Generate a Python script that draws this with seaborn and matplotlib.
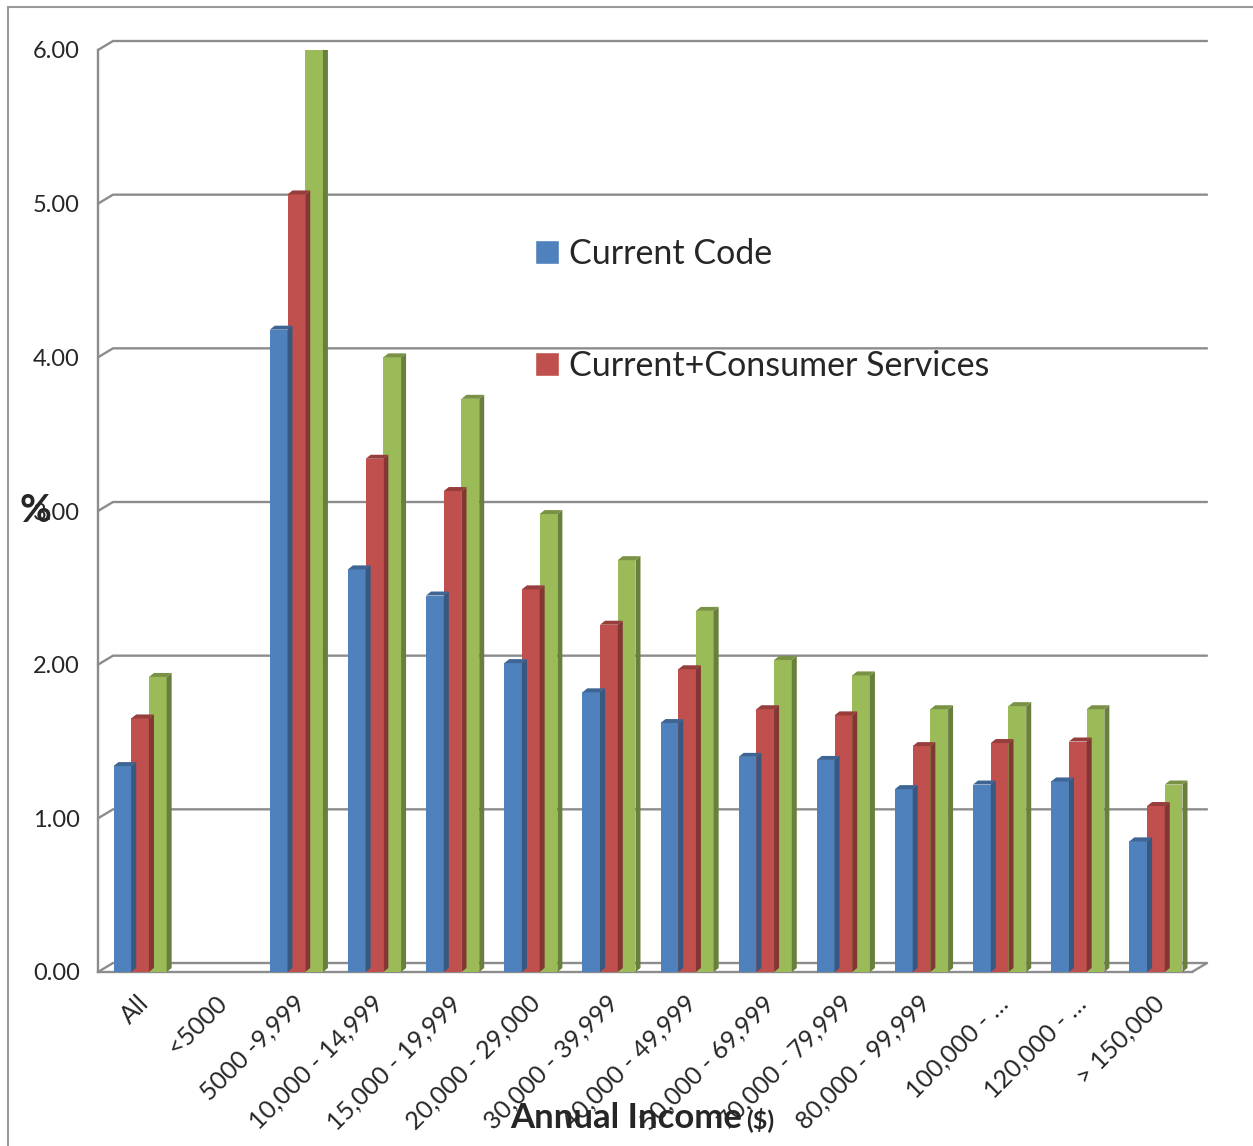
import matplotlib
matplotlib.use('Agg')
import numpy as np
import pandas as pd
import seaborn as sns
import matplotlib.pyplot as plt
from matplotlib.patches import Polygon, Patch, Rectangle

categories = ['All', '<5000', '5000 -9,999', '10,000 - 14,999', '15,000 - 19,999',
              '20,000 - 29,000', '30,000 - 39,999', '40,000 - 49,999', '50,000 - 69,999',
              '70,000 - 79,999', '80,000 - 99,999', '100,000 - \u2026', '120,000 - \u2026',
              '> 150,000']
current_code = [1.34, np.nan, 4.18, 2.62, 2.45, 2.01, 1.82, 1.62, 1.40, 1.38, 1.19, 1.22, 1.24, 0.85]
current_consumer = [1.65, np.nan, 5.06, 3.34, 3.13, 2.49, 2.26, 1.97, 1.71, 1.67, 1.47, 1.49, 1.50, 1.08]
series3 = [1.92, np.nan, 6.01, 4.00, 3.73, 2.98, 2.68, 2.35, 2.03, 1.93, 1.71, 1.73, 1.71, 1.22]
series_names = ['Current Code', 'Current+Consumer Services', 'Series3']
yticks = [0, 1, 2, 3, 4, 5, 6]

colors = ['#4F81BD', '#C0504D', '#9BBB59']
grid_col = '#8c8c8c'

df = pd.DataFrame({
    'income': categories * 3,
    'value': current_code + current_consumer + series3,
    'series': [n for n in series_names for _ in categories],
})

sns.set_style('white')
plt.rcParams['font.family'] = ['Lato', 'DejaVu Sans']

fig = plt.figure(figsize=(12.53, 11.46), dpi=100)
ax = fig.add_axes([98 / 1253, 1 - 972 / 1146, 1094 / 1253, 922 / 1146])

sns.barplot(data=df, x='income', y='value', hue='series', order=categories,
            hue_order=series_names, palette=colors, saturation=1, width=0.68,
            errorbar=None, ax=ax, legend=False, zorder=3)

ax.set_xlim(-0.5, len(categories) - 0.5)
ax.set_ylim(0, 6)

# pixel -> data scales for the fake 3D look
px_x = ax.bbox.width / (len(categories))
px_y = ax.bbox.height / 6.0

# side and top faces of bars
ddx, ddy = 5 / px_x, 4 / px_y
for p in list(ax.patches):
    h = p.get_height()
    if not np.isfinite(h) or h == 0:
        continue
    p.set_x(p.get_x() + 3 / px_x)
    x, w = p.get_x(), p.get_width()
    fc = np.array(p.get_facecolor()[:3])
    side = Polygon([(x + w, 0), (x + w + ddx, ddy), (x + w + ddx, h + ddy), (x + w, h)],
                   closed=True, facecolor=fc * 0.68, edgecolor='none', zorder=3)
    top = Polygon([(x, h), (x + ddx, h + ddy), (x + w + ddx, h + ddy), (x + w, h)],
                  closed=True, facecolor=fc * 0.78, edgecolor='none', zorder=3)
    ax.add_patch(side)
    ax.add_patch(top)
    p.set_edgecolor('none')

# back wall gridlines with diagonal joints
bx, by = 15 / px_x, 9 / px_y
x0, x1 = -0.5, len(categories) - 0.5
for yv in yticks:
    ax.plot([x0, x0 + bx, x1 + bx], [yv, yv + by, yv + by], color=grid_col,
            lw=1.7, zorder=1, clip_on=False)
ax.plot([x1, x1 + bx], [0, by], color=grid_col, lw=1.7, zorder=1, clip_on=False)

# axes styling
for s in ['top', 'right']:
    ax.spines[s].set_visible(False)
for s in ['left', 'bottom']:
    ax.spines[s].set_color(grid_col)
    ax.spines[s].set_linewidth(1.7)

ax.set_yticks(yticks)
ax.set_yticklabels(['%.2f' % v for v in yticks], fontsize=17)
ax.tick_params(axis='y', length=7, width=1.7, color=grid_col, pad=6)

ax.set_xticks(range(len(categories)))
ax.set_xticklabels(categories, rotation=45, ha='right', rotation_mode='anchor', fontsize=18)
ax.set_xticks(np.arange(-0.5, len(categories)), minor=True)
ax.tick_params(axis='x', which='major', length=0, pad=14)
ax.tick_params(axis='x', which='minor', length=10, width=1.7, color=grid_col)

ax.set_xlabel('')
ax.set_ylabel('%', rotation=0, fontsize=28, fontweight='bold', va='center')
ax.yaxis.set_label_coords(-0.057, 0.5)

fig.text(742 / 1253, 1 - 1128 / 1146, 'Annual Income', fontsize=25, fontweight='bold',
         ha='right', va='baseline')
fig.text(746 / 1253, 1 - 1128 / 1146, '($)', fontsize=18, fontweight='bold',
         ha='left', va='baseline')

handles = [Patch(facecolor=colors[0]), Patch(facecolor=colors[1])]
ax.legend(handles, series_names[:2], loc='upper left', bbox_to_anchor=(0.384, 0.815),
          frameon=False, fontsize=24.5, handlelength=0.7, handleheight=0.7,
          handletextpad=0.3, labelspacing=2.35, borderpad=0)

# chart area border (only top/left visible in the crop)
fig.patches.append(Rectangle((8 / 1253, -0.2), 2.0, 1.2 - 7 / 1146, transform=fig.transFigure,
                             fill=False, edgecolor='#9a9a9a', lw=1.5))

fig.savefig('out.png', dpi=100)
